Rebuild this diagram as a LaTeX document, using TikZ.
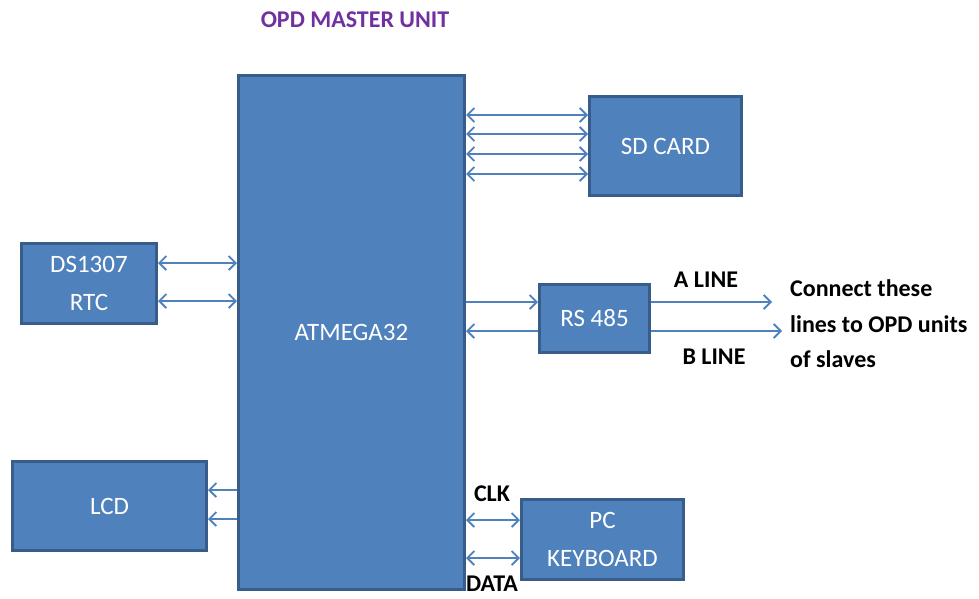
\documentclass[tikz,border=0pt]{standalone}
\usepackage{fontspec}
\setmainfont{Carlito}
\usetikzlibrary{arrows.meta}
\definecolor{boxblue}{RGB}{79,129,189}
\definecolor{boxedge}{RGB}{56,93,138}
\definecolor{titlepurple}{RGB}{112,48,160}
\tikzset{
	block/.style={draw=boxedge, fill=boxblue, line width=3pt, text=white, anchor=north west,
		align=center, inner sep=0pt, font=\fontsize{25}{38}\selectfont},
	lbl/.style={font=\bfseries\fontsize{24}{35.5}\selectfont},
	link/.style={draw=boxblue, line width=1.8pt},
	tip/.style={link, -{Straight Barb[length=7pt,width=14pt]}},
	both/.style={link, {Straight Barb[length=7pt,width=14pt]}-{Straight Barb[length=7pt,width=14pt]}}
}
\begin{document}
\begin{tikzpicture}[x=1pt,y=-1pt]
					\useasboundingbox (0,0) rectangle (979,598);
					% blocks
					\node[block, minimum width=226pt, minimum height=514pt] (atm) at (237,74) {ATMEGA32};
					\node[block, minimum width=152pt, minimum height=99pt] (sd) at (588,95) {SD CARD};
					\node[block, minimum width=135pt, minimum height=80pt] (rtc) at (20,242) {DS1307\\RTC};
					\node[block, minimum width=194pt, minimum height=89pt] (lcd) at (11,460) {LCD};
					\node[block, minimum width=110pt, minimum height=68pt] (rs) at (538,283) {RS 485};
					\node[block, minimum width=162pt, minimum height=80pt] (kb) at (520,498) {PC\\KEYBOARD};
					\node[lbl, text=titlepurple] (title) at (355,20) {OPD MASTER UNIT};
					% bus lines
					\foreach \y in {115,134,154,174}
						\draw[both] (atm.east |- 0,\y) -- (sd.west |- 0,\y);
					\foreach \y in {263,301}
						\draw[both] (rtc.east |- 0,\y) -- (atm.west |- 0,\y);
					\foreach \y in {490,519}
						\draw[tip] (atm.west |- 0,\y) -- (lcd.east |- 0,\y);
					\foreach \y in {520,558}
						\draw[both] (atm.east |- 0,\y) -- (kb.west |- 0,\y);
					\draw[tip] (atm.east |- 0,302) -- (rs.west |- 0,302);
					\draw[tip] (rs.west |- 0,331) -- (atm.east |- 0,331);
					\coordinate (aend) at (772,302);
					\coordinate (bend) at (782,331);
					\draw[tip] (rs.east |- aend) -- (aend);
					\draw[tip] (rs.east |- bend) -- (bend);
					% labels
					\node[lbl] (aline) at (706,280) {A LINE};
					\node[lbl] (bline) at (714,357) {B LINE};
					\node[lbl] (clk) at (492,494) {CLK};
					\node[lbl] (data) at (492,584) {DATA};
					\node[lbl, anchor=west, align=left, inner sep=0pt] (note) at (790,324) {Connect these\\lines to OPD units\\of slaves};
\end{tikzpicture}
\end{document}
